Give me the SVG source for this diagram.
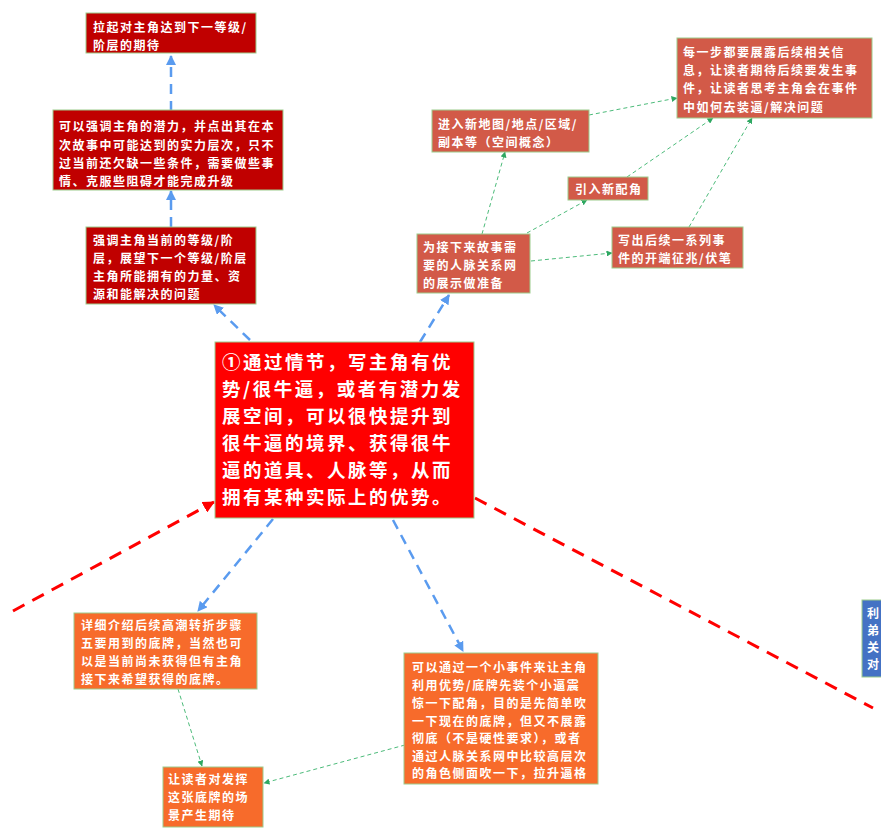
<svg xmlns="http://www.w3.org/2000/svg" width="881" height="839" viewBox="0 0 881 839">
<style>
.t{font-family:"Noto Sans CJK SC","Liberation Sans",sans-serif;font-weight:bold;fill:#fff;font-size:12px;letter-spacing:1.5px}
.tm{font-family:"Noto Sans CJK SC","Liberation Sans",sans-serif;font-weight:bold;fill:#fff;font-size:18.5px;letter-spacing:2.5px}
.box{stroke:#9ccc8c;stroke-width:1}
.dk{fill:#c00000}
.main{fill:#ff0000}
.rs{fill:#d25a48}
.or{fill:#f76b2b}
.bl{fill:#4472c4}
.blue{fill:none;stroke:#5a9bef;stroke-width:2.5;stroke-dasharray:10 7}
.red{fill:none;stroke:#f00;stroke-width:3;stroke-dasharray:13 9}
.grn{fill:none;stroke:#4cbb7a;stroke-width:1;stroke-dasharray:4 3}
</style>
<defs>
<marker id="ab" markerUnits="userSpaceOnUse" markerWidth="10" markerHeight="10" refX="9" refY="5" orient="auto"><path d="M0,0 L10,5 L0,10 z" fill="#5a9bef"/></marker>
<marker id="ar" markerUnits="userSpaceOnUse" markerWidth="12" markerHeight="12" refX="11" refY="6" orient="auto"><path d="M0,0 L12,6 L0,12 z" fill="#f00"/></marker>
<marker id="ag" markerUnits="userSpaceOnUse" markerWidth="6" markerHeight="6" refX="5.5" refY="3" orient="auto"><path d="M0,0 L6,3 L0,6 z" fill="#2ea862"/></marker>
</defs>
<rect width="881" height="839" fill="#fff"/>
<g id="connectors">
<path class="blue" d="M171,111 L171,56" marker-end="url(#ab)"/>
<path class="blue" d="M171,227 L171,191" marker-end="url(#ab)"/>
<path class="blue" d="M250,340 L214,305" marker-end="url(#ab)"/>
<path class="blue" d="M420,342 L449,295" marker-end="url(#ab)"/>
<path class="blue" d="M273,519 L198,611" marker-end="url(#ab)"/>
<path class="blue" d="M393,520 L463,651" marker-end="url(#ab)"/>
<path class="red" d="M13,611 L214,502" marker-end="url(#ar)"/>
<path class="red" d="M475,498 L873,708"/>
<path class="grn" d="M482,234 L505,152" marker-end="url(#ag)"/>
<path class="grn" d="M527,233 L587,200" marker-end="url(#ag)"/>
<path class="grn" d="M531,261 L612,253" marker-end="url(#ag)"/>
<path class="grn" d="M589,115 L677,98" marker-end="url(#ag)"/>
<path class="grn" d="M627,177 L713,118" marker-end="url(#ag)"/>
<path class="grn" d="M689,227 L752,118" marker-end="url(#ag)"/>
<path class="grn" d="M178,689 L202,766" marker-end="url(#ag)"/>
<path class="grn" d="M405,745 L264,783" marker-end="url(#ag)"/>
</g>
<g id="nodeA"><rect class="box dk" x="86" y="13" width="170" height="40"/>
<text class="t" x="93" y="32">拉起对主角达到下一等级/</text><text class="t" x="93" y="50">阶层的期待</text></g>
<g id="nodeB"><rect class="box dk" x="53" y="110" width="230" height="80"/>
<text class="t" x="59" y="131">可以强调主角的潜力，并点出其在本</text><text class="t" x="59" y="150">次故事中可能达到的实力层次，只不</text><text class="t" x="59" y="168">过当前还欠缺一些条件，需要做些事</text><text class="t" x="59" y="186">情、克服些阻碍才能完成升级</text></g>
<g id="nodeC"><rect class="box dk" x="86" y="227" width="170" height="77"/>
<text class="t" x="93" y="245">强调主角当前的等级/阶</text><text class="t" x="93" y="263">层，展望下一个等级/阶层</text><text class="t" x="93" y="281">主角所能拥有的力量、资</text><text class="t" x="93" y="299">源和能解决的问题</text></g>
<g id="nodeMain"><rect class="box main" x="215" y="342" width="259" height="176"/>
<text class="tm" x="222" y="369">①通过情节，写主角有优</text><text class="tm" x="222" y="396">势/很牛逼，或者有潜力发</text><text class="tm" x="222" y="423">展空间，可以很快提升到</text><text class="tm" x="222" y="450">很牛逼的境界、获得很牛</text><text class="tm" x="222" y="477">逼的道具、人脉等，从而</text><text class="tm" x="222" y="504">拥有某种实际上的优势。</text></g>
<g id="nodeE"><rect class="box rs" x="417" y="234" width="113" height="59"/>
<text class="t" x="423" y="252">为接下来故事需</text><text class="t" x="423" y="270">要的人脉关系网</text><text class="t" x="423" y="288">的展示做准备</text></g>
<g id="nodeF"><rect class="box rs" x="432" y="110" width="157" height="42"/>
<text class="t" x="438" y="129">进入新地图/地点/区域/</text><text class="t" x="438" y="147">副本等（空间概念）</text></g>
<g id="nodeG"><rect class="box rs" x="568" y="177" width="80" height="23"/>
<text class="t" x="575" y="194">引入新配角</text></g>
<g id="nodeH"><rect class="box rs" x="612" y="227" width="131" height="41"/>
<text class="t" x="618" y="245">写出后续一系列事</text><text class="t" x="618" y="263">件的开端征兆/伏笔</text></g>
<g id="nodeI"><rect class="box rs" x="677" y="38" width="195" height="80"/>
<text class="t" x="683" y="57">每一步都要展露后续相关信</text><text class="t" x="683" y="75">息，让读者期待后续要发生事</text><text class="t" x="683" y="93">件，让读者思考主角会在事件</text><text class="t" x="683" y="112">中如何去装逼/解决问题</text></g>
<g id="nodeJ"><rect class="box or" x="74" y="613" width="183" height="76"/>
<text class="t" x="81" y="630">详细介绍后续高潮转折步骤</text><text class="t" x="81" y="648">五要用到的底牌，当然也可</text><text class="t" x="81" y="666">以是当前尚未获得但有主角</text><text class="t" x="81" y="684">接下来希望获得的底牌。</text></g>
<g id="nodeK"><rect class="box or" x="404" y="653" width="194" height="131"/>
<text class="t" x="412" y="672">可以通过一个小事件来让主角</text><text class="t" x="412" y="690">利用优势/底牌先装个小逼震</text><text class="t" x="412" y="708">惊一下配角，目的是先简单吹</text><text class="t" x="412" y="725.5">一下现在的底牌，但又不展露</text><text class="t" x="412" y="743">彻底（不是硬性要求），或者</text><text class="t" x="412" y="760.5">通过人脉关系网中比较高层次</text><text class="t" x="412" y="778">的角色侧面吹一下，拉升逼格</text></g>
<g id="nodeM"><rect class="box or" x="163" y="767" width="100" height="60"/>
<text class="t" x="168" y="784">让读者对发挥</text><text class="t" x="168" y="802">这张底牌的场</text><text class="t" x="168" y="820">景产生期待</text></g>
<g id="nodeL"><rect class="box bl" x="862" y="600" width="30" height="77"/>
<text class="t" x="867" y="618">利</text><text class="t" x="867" y="635">弟</text><text class="t" x="867" y="652">关</text><text class="t" x="867" y="669">对</text></g>
</svg>
